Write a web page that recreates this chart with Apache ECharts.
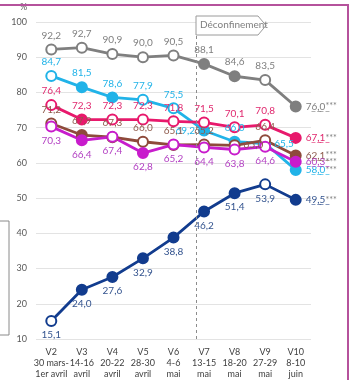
<!DOCTYPE html>
<html><head><meta charset="utf-8">
<script src="https://cdn.jsdelivr.net/npm/echarts@6/dist/echarts.min.js"></script>
<style>html,body{margin:0;padding:0;background:#fff}#c{width:351px;height:380px}</style>
</head><body><div id="c"></div>
<script>
const categories = ['V2\n30 mars-\n1er avril','V3\n14-16\navril','V4\n20-22\navril','V5\n28-30\navril','V6\n4-6\nmai','V7\n13-15\nmai','V8\n18-20\nmai','V9\n27-29\nmai','V10\n8-10\njuin'];
const yTicks = [10,20,30,40,50,60,70,80,90,100];
const grayVals    = [92.2, 92.7, 90.9, 90.0, 90.5, 88.1, 84.6, 83.5, 76.0];
const cyanVals    = [84.7, 81.5, 78.6, 77.9, 75.5, 69.2, 66.0, 65.5, 58.0];
const pinkVals    = [76.4, 72.3, 72.3, 72.3, 71.8, 71.5, 70.1, 70.8, 67.1];
const brownVals   = [71.2, 67.9, 67.3, 66.0, 65.1, 65.2, 65.0, 66.4, 62.1];
const magentaVals = [70.3, 66.4, 67.4, 62.8, 65.2, 64.4, 63.8, 64.6, 60.3];
const navyVals    = [15.1, 24.0, 27.6, 32.9, 38.8, 46.2, 51.4, 53.9, 49.5];
// significant change flags (filled marker)
const graySig    = [0,0,0,0,0,1,1,0,1];
const cyanSig    = [0,1,1,0,0,1,1,0,1];
const pinkSig    = [0,1,0,0,0,0,0,0,1];
const brownSig   = [0,1,0,0,0,0,0,0,1];
const magentaSig = [0,1,0,1,0,0,0,0,1];
const navySig    = [0,1,1,1,1,1,1,0,1];
const deconfinementAt = 4.75;

const FONT = 'Lato';
const fmt = v => v.toFixed(1).replace('.', ',');
const ul = s => s.split('').map(c => c + '\u0332').join('');

function mk(name, vals, sig, color, positions, labelColor) {
  const last = vals.length - 1;
  return {
    name, type: 'line', data: vals.map((v, i) => ({
      value: v,
      itemStyle: { color: sig[i] ? color : '#fff', borderColor: color, borderWidth: 2 },
      label: {
        show: true,
        position: i === last ? 'right' : positions[i],
        distance: i === last ? 4 : 3,
        formatter: i === last ? ('{u|' + ul(fmt(v)) + '}{s|***}') : fmt(v),
        rich: { u: { color: labelColor, fontSize: 10, fontFamily: FONT }, s: { color: '#7f7f7f', fontSize: 9, fontFamily: FONT } }
      }
    })),
    symbol: 'circle', symbolSize: 10, showAllSymbol: true,
    lineStyle: { color, width: 2.8 },
    itemStyle: { color, borderColor: color },
    label: { color: labelColor, fontSize: 10, fontFamily: FONT },
    z: 3, animation: false
  };
}
const T = 'top', B = 'bottom', L = 'left', R = 'right';
const series = [
  mk('gray', grayVals, graySig, '#7f7f7f', [T,T,T,T,T,T,T,T,T], '#7f7f7f'),
  mk('cyan', cyanVals, cyanSig, '#21b3e8', [T,T,T,T,T,L,T,R,T], '#21b3e8'),
  mk('pink', pinkVals, pinkSig, '#e8196c', [T,T,T,T,T,T,T,T,T], '#e0286e'),
  mk('brown', brownVals, brownSig, '#8e4a3b', [T,T,T,T,T,T,R,T,T], '#8e5a4b'),
  mk('magenta', magentaVals, magentaSig, '#c81ccc', [B,B,B,B,B,B,B,B,B], '#b23fc2'),
  mk('navy', navyVals, navySig, '#123c8e', [B,B,B,B,B,B,B,B,B], '#34548f'),
  { type: 'line', xAxisIndex: 1, data: [], silent: true,
    markLine: { silent: true, symbol: 'none', label: { show: false },
      lineStyle: { color: '#8c8c8c', type: [3, 3], width: 1 },
      data: [{ xAxis: deconfinementAt }] } }
];

const chart = echarts.init(document.getElementById('c'), null, { renderer: 'canvas' });
chart.setOption({
  animation: false,
  grid: { left: 36, right: 40, top: 22, bottom: 34 },
  xAxis: [{
    type: 'category', data: categories, boundaryGap: true,
    axisLine: { show: false }, axisTick: { show: false },
    axisLabel: { interval: 0, fontSize: 9, lineHeight: 11, color: '#404040', fontFamily: FONT, margin: 8 }
  }, { type: 'value', min: -0.5, max: 8.5, show: false }],
  yAxis: {
    type: 'value', min: yTicks[0], max: yTicks[yTicks.length - 1], interval: 10,
    axisLine: { show: false }, axisTick: { show: false },
    axisLabel: { fontSize: 9, color: '#595959', fontFamily: FONT, margin: 9 },
    splitLine: { lineStyle: { color: '#e3e3e3', width: 1 } }
  },
  graphic: [
    { type: 'text', left: 20, top: 3, style: { text: '%', fontSize: 9, fill: '#595959', fontFamily: FONT } },
    { type: 'polygon', z: 10, shape: { points: [[196,16],[258,16],[266,25.5],[258,35],[196,35]] },
      style: { fill: '#fff', stroke: '#9a9a9a', lineWidth: 1 } },
    { type: 'text', z: 11, left: 200, top: 20, style: { text: 'Déconfinement', fontSize: 10, fill: '#7f7f7f', fontFamily: FONT } },
    { type: 'line', z: 12, shape: { x1: 0, y1: 5, x2: 349, y2: 5 }, style: { stroke: '#b5529c', lineWidth: 2 } },
    { type: 'line', z: 12, shape: { x1: 348, y1: 5, x2: 348, y2: 380 }, style: { stroke: '#b5529c', lineWidth: 2 } },
    { type: 'polyline', z: 12, shape: { points: [[0,221],[9,221],[9,335],[0,335]] }, style: { fill: null, stroke: '#8a8a8a', lineWidth: 1 } }
  ],
  series
});
</script></body></html>
